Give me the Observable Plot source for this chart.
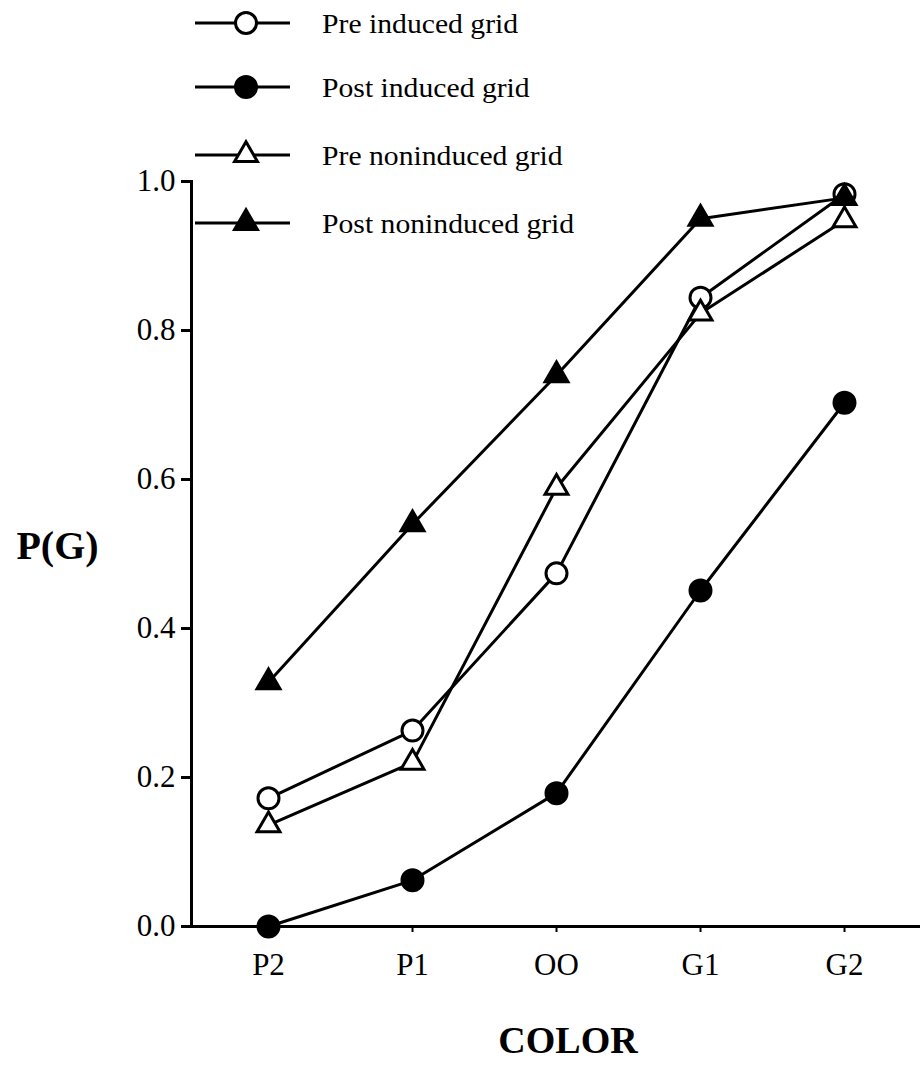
<!DOCTYPE html>
<html><head><meta charset="utf-8">
<script src="https://cdn.jsdelivr.net/npm/d3@7"></script>
<script src="https://cdn.jsdelivr.net/npm/@observablehq/plot@0.6"></script>
<style>
html,body{margin:0;padding:0;background:#fff;}
#wrap{position:relative;width:920px;height:1065px;overflow:hidden;}
#legend{position:absolute;left:0;top:0;}
</style></head><body><div id="wrap"></div>
<script>
// ---- data ----
const colors = ["P2", "P1", "OO", "G1", "G2"];
const preInduced     = [0.172, 0.263, 0.474, 0.844, 0.983];
const postInduced    = [0.000, 0.062, 0.179, 0.451, 0.703];
const preNoninduced  = [0.136, 0.220, 0.589, 0.823, 0.948];
const postNoninduced = [0.328, 0.540, 0.740, 0.950, 0.978];
const seriesNames = ["Pre induced grid", "Post induced grid", "Pre noninduced grid", "Post noninduced grid"];
const seriesSymbols = ["circle", "circle", "triangle", "triangle"];
const seriesFilled = [false, true, false, true];
const yTicks = [0, 0.2, 0.4, 0.6, 0.8, 1.0];
const xLabel = "COLOR";
const yLabel = "P(G)";

const seriesValues = [preInduced, postInduced, preNoninduced, postNoninduced];
const series = seriesNames.map((name, k) => ({
  name, symbol: seriesSymbols[k], filled: seriesFilled[k],
  points: colors.map((c, i) => ({color: c, value: seriesValues[k][i]}))
}));

const font = "'Liberation Serif', 'Times New Roman', serif";
const symR = sym => sym === "circle" ? 10.5 : 8.5;

const marks = [
  Plot.frame({anchor: "left", strokeWidth: 3}),
  Plot.frame({anchor: "bottom", strokeWidth: 3}),
  Plot.axisY({ticks: yTicks, tickSize: 10, tickPadding: 6, tickFormat: d => d.toFixed(1), fontSize: 31, strokeWidth: 3, label: null}),
  Plot.axisX({tickSize: 6, tickPadding: 20, fontSize: 31, strokeWidth: 2, label: null})
];
for (const s of series) {
  marks.push(Plot.line(s.points, {x: "color", y: "value", stroke: "black", strokeWidth: 3}));
}
for (const s of series) {
  marks.push(Plot.dot(s.points, {
    x: "color", y: "value", symbol: s.symbol, r: symR(s.symbol),
    fill: s.filled ? "black" : "white", stroke: "black", strokeWidth: 3
  }));
}
marks.push(Plot.text([yLabel], {frameAnchor: "left", textAnchor: "middle", dx: -134, dy: -8, fontSize: 40, fontWeight: "bold", fill: "black"}));
marks.push(Plot.text([xLabel], {frameAnchor: "bottom", textAnchor: "middle", dx: 12, dy: 126, fontSize: 38, fontWeight: "bold", fill: "black"}));

const plot = Plot.plot({
  width: 920, height: 1065,
  marginTop: 181, marginBottom: 139, marginLeft: 191, marginRight: 0,
  style: {fontFamily: font, background: "white", color: "black"},
  x: {type: "point", domain: colors, padding: 0.52, axis: null},
  y: {domain: [0, 1], axis: null},
  marks
});
const wrap = document.getElementById("wrap");
wrap.appendChild(plot);

// ---- legend (overlay) ----
const rowY = [23, 87, 155, 223];
const ns = "http://www.w3.org/2000/svg";
const leg = document.createElementNS(ns, "svg");
leg.setAttribute("id", "legend");
leg.setAttribute("width", 620);
leg.setAttribute("height", 250);
series.forEach((s, k) => {
  const g = document.createElementNS(ns, "g");
  g.setAttribute("transform", `translate(0,${rowY[k]})`);
  const line = document.createElementNS(ns, "line");
  line.setAttribute("x1", 195); line.setAttribute("x2", 290);
  line.setAttribute("y1", 0); line.setAttribute("y2", 0);
  line.setAttribute("stroke", "black"); line.setAttribute("stroke-width", 3);
  g.appendChild(line);
  const sym = document.createElementNS(ns, "path");
  const r = symR(s.symbol);
  const gen = d3.symbol(s.symbol === "circle" ? d3.symbolCircle : d3.symbolTriangle, Math.PI * r * r);
  sym.setAttribute("d", gen());
  sym.setAttribute("transform", "translate(246,0)");
  sym.setAttribute("fill", s.filled ? "black" : "white");
  sym.setAttribute("stroke", "black"); sym.setAttribute("stroke-width", 3);
  g.appendChild(sym);
  const t = document.createElementNS(ns, "text");
  t.setAttribute("transform", "translate(322,0) scale(1.06,1)");
  t.setAttribute("dy", "0.35em");
  t.setAttribute("font-family", font);
  t.setAttribute("font-size", 28);
  t.textContent = s.name;
  g.appendChild(t);
  leg.appendChild(g);
});
wrap.appendChild(leg);
</script>
</body></html>
